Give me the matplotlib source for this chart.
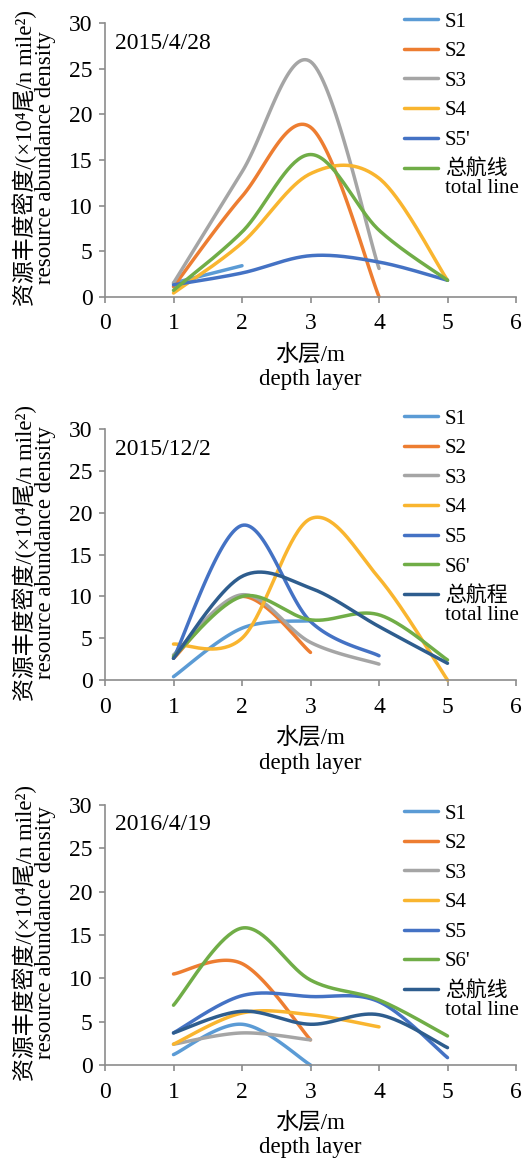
import numpy as np
import matplotlib
matplotlib.use("Agg")
import matplotlib.pyplot as plt

plt.rcParams['font.family'] = ['Liberation Serif', 'Noto Sans CJK SC', 'DejaVu Sans']

W, H = 523, 1161

depth = [1, 2, 3, 4, 5]

# 2015/4/28
a_s1 = [1.5, 3.4]
a_s2 = [1.1, 11.0, 18.6, 0.0]
a_s3 = [1.5, 13.7, 25.8, 3.1]
a_s4 = [0.4, 5.9, 13.5, 13.0, 1.8]
a_s5 = [1.3, 2.6, 4.5, 3.8, 1.8]
a_total = [0.7, 7.1, 15.6, 7.3, 1.8]

# 2015/12/2
b_s1 = [0.4, 6.2, 7.1]
b_s2 = [2.6, 10.0, 3.3]
b_s3 = [3.0, 10.2, 4.5, 1.9]
b_s4 = [4.3, 5.0, 19.3, 12.2, 0.0]
b_s5 = [2.6, 18.5, 7.0, 2.9]
b_s6 = [2.8, 10.0, 7.2, 7.8, 2.4]
b_total = [2.6, 12.4, 11.0, 6.4, 2.0]

# 2016/4/19
c_s1 = [1.2, 4.7, 0.0]
c_s2 = [10.5, 11.7, 2.9]
c_s3 = [2.4, 3.7, 2.9]
c_s4 = [2.4, 6.0, 5.8, 4.4]
c_s5 = [3.7, 8.0, 7.9, 7.3, 0.85]
c_s6 = [6.9, 15.8, 9.8, 7.5, 3.35]
c_total = [3.7, 6.2, 4.7, 5.8, 2.0]

C1, C2, C3, C4 = '#5B9BD5', '#ED7D31', '#A5A5A5', '#F9B52F'
C5, C6, C7 = '#4472C4', '#70AD47', '#2E5D8E'
AXIS = '#8C8C8C'


def smooth(xs, ys, n=40):
    # Bezier segments with Catmull-Rom style control points (smoothed line)
    p = np.column_stack([xs, ys]).astype(float)
    ext = np.vstack([p[0], p, p[-1]])
    t = np.linspace(0, 1, n)[:, None]
    out = []
    for i in range(len(p) - 1):
        p0, p3 = ext[i + 1], ext[i + 2]
        c1 = p0 + (ext[i + 2] - ext[i]) / 6
        c2 = p3 - (ext[i + 3] - ext[i + 1]) / 6
        seg = (1 - t)**3 * p0 + 3 * (1 - t)**2 * t * c1 + 3 * (1 - t) * t**2 * c2 + t**3 * p3
        out.append(seg if i == 0 else seg[1:])
    seg = np.vstack(out)
    return seg[:, 0], seg[:, 1]


panels = [
    dict(date='2015/4/28', top=23.3, bottom=296.7, leg_y=23,
         series=[('S1', a_s1, C1), ('S2', a_s2, C2), ('S3', a_s3, C3), ('S4', a_s4, C4),
                 ("S5'", a_s5, C5), ('总航线', a_total, C6)]),
    dict(date='2015/12/2', top=429.3, bottom=680, leg_y=420,
         series=[('S1', b_s1, C1), ('S2', b_s2, C2), ('S3', b_s3, C3), ('S4', b_s4, C4),
                 ('S5', b_s5, C5), ("S6'", b_s6, C6), ('总航程', b_total, C7)]),
    dict(date='2016/4/19', top=805, bottom=1065, leg_y=815,
         series=[('S1', c_s1, C1), ('S2', c_s2, C2), ('S3', c_s3, C3), ('S4', c_s4, C4),
                 ('S5', c_s5, C5), ("S6'", c_s6, C6), ('总航线', c_total, C7)]),
]

fig = plt.figure(figsize=(W / 100, H / 100), dpi=100)
left, right = 105, 516

legends = []
for p in panels:
    ax = fig.add_axes([left / W, 1 - p['bottom'] / H, (right - left) / W, (p['bottom'] - p['top']) / H])
    handles = []
    for name, vals, col in p['series']:
        xs, ys = smooth(depth[:len(vals)], vals)
        ln, = ax.plot(xs, ys, color=col, lw=2.5, solid_capstyle='round', clip_on=False)
        handles.append(ln)
    ax.set_xlim(0, 6)
    ax.set_ylim(0, 30)
    ax.set_xticks(range(0, 7))
    ax.set_yticks(range(0, 31, 5))
    for s in ['top', 'right']:
        ax.spines[s].set_visible(False)
    for s in ['left', 'bottom']:
        ax.spines[s].set_color(AXIS)
        ax.spines[s].set_linewidth(1.2)
    ax.tick_params(direction='out', length=4, width=1.2, color=AXIS, labelsize=17)
    ax.tick_params(axis='x', pad=8)
    ax.tick_params(axis='y', pad=5)
    ax.text(115 / W, 1 - (p['top'] + 20) / H, p['date'], transform=fig.transFigure,
            fontsize=17, va='center', ha='left')

    leg = ax.legend(handles, [h[0] for h in p['series']], loc='upper left',
                    bbox_to_anchor=(404 / W, 1 - (p['leg_y'] - 11) / H),
                    bbox_transform=fig.transFigure, frameon=False, fontsize=15,
                    handlelength=1.65, handletextpad=0.3, labelspacing=0.48,
                    borderpad=0, borderaxespad=0)
    legends.append(leg)

    # axis titles
    ymid = (p['top'] + p['bottom']) / 2 - 2
    fig.text(25 / W, 1 - ymid / H, '资源丰度密度/(×10⁴尾/n mile²)', rotation=90,
             ha='center', va='center', fontsize=16.5)
    fig.text(46 / W, 1 - ymid / H, 'resource abundance density', rotation=90,
             ha='center', va='center', fontsize=16.5)
    xmid = (left + right) / 2
    fig.text(xmid / W, 1 - (p['bottom'] + 58) / H, '水层/m', ha='center', va='center', fontsize=16.5)
    fig.text(xmid / W, 1 - (p['bottom'] + 83) / H, 'depth layer', ha='center', va='center', fontsize=16.5)

# second line of the total-line legend entry
fig.canvas.draw()
for leg in legends:
    bb = leg.get_texts()[-1].get_window_extent()
    fig.text(bb.x0 / W, (bb.y0 + 1) / H, 'total line', ha='left', va='top', fontsize=15)

fig.savefig('out.png', dpi=100)
